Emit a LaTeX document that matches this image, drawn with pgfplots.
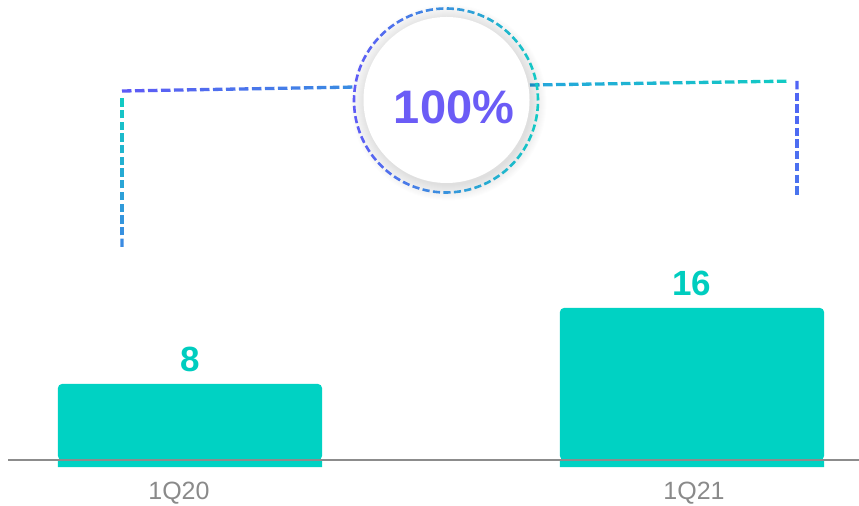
\documentclass[border=0pt]{standalone}
\usepackage{fontspec}
\setmainfont{Liberation Sans}
\usepackage{pgfplots}
\pgfplotsset{compat=1.18}
\usetikzlibrary{calc}
\definecolor{barteal}{HTML}{00D2C3}
\definecolor{valteal}{HTML}{00CDBF}
\definecolor{axgray}{HTML}{8C8C8C}
\definecolor{lblgray}{HTML}{8A8A8A}
\definecolor{pctpurple}{HTML}{6B5CF6}
\definecolor{gpurple}{HTML}{5E5BF6}
\definecolor{gteal}{HTML}{12CAC4}
\definecolor{gblue}{HTML}{3A8BE2}
\definecolor{gcyan}{HTML}{26A6DC}
\definecolor{gviolet}{HTML}{5064F5}
\definecolor{gviolettwo}{HTML}{4A74EE}
% dashed line with a colour gradient: x1 y1 x2 y2 colA colB dash gap
\newcommand{\gradline}[8]{%
  \pgfmathsetmacro{\glL}{veclen(#3-#1,#4-#2)}%
  \pgfmathtruncatemacro{\glN}{floor((\glL+#8)/(#7+#8))-1}%
  \foreach \i in {0,...,\glN}{%
    \pgfmathsetmacro{\gls}{\i*(#7+#8)/\glL}%
    \pgfmathsetmacro{\gle}{min(\i*(#7+#8)+#7,\glL)/\glL}%
    \pgfmathtruncatemacro{\glp}{\glN==0?0:100*\i/\glN}%
    \draw[line width=3.3bp, color=#6!\glp!#5] ($(#1,#2)!\gls!(#3,#4)$) -- ($(#1,#2)!\gle!(#3,#4)$);
  }%
}
\begin{document}
\begin{tikzpicture}[x=1bp,y=1bp]
\useasboundingbox (0,0) rectangle (859,506);
\begin{axis}[
  at={(8bp,39bp)}, anchor=south west, scale only axis,
  width=851bp, height=467bp,
  xmin=-0.3625, xmax=1.3327, ymin=-0.7368, ymax=48.42,
  axis line style={draw=none},
  ytick=\empty,
  xtick={-0.022,1.004}, xticklabels={1Q20,1Q21},
  major tick length=0pt,
  xticklabel style={font=\fontsize{25bp}{30bp}\selectfont, text=lblgray, inner sep=0pt, anchor=north, yshift=-15bp},
  extra y ticks={0}, extra y tick labels={},
  extra y tick style={ymajorgrids=true},
  major grid style={draw=axgray, line width=1.4bp},
  axis on top, clip=false,
  ybar, bar width=0.526, bar shift=0pt,
  /pgf/number format/assume math mode=true,
]
\addplot[fill=barteal, draw=none, rounded corners=4bp,
  nodes near coords,
  nodes near coords style={font=\fontsize{35bp}{40bp}\selectfont\bfseries, text=valteal, anchor=south, inner sep=0pt, yshift=12bp}]
  coordinates {(0,8) (1,16)};
\addplot[fill=barteal, draw=none, forget plot] coordinates {(0,-0.74) (1,-0.74)};
\end{axis}
% bracket
\gradline{122}{259}{122}{415}{gblue}{gteal}{8.3}{3.4}
\gradline{122}{415}{357}{419}{gpurple}{gblue}{9.5}{3.5}
\gradline{530}{421}{797}{425}{gcyan}{gteal}{9.5}{3.5}
\gradline{797}{425}{797}{309}{gviolet}{gviolettwo}{8.3}{3.4}
% shadow and white disc
\foreach \k in {1,...,16}{%
  \pgfmathsetmacro{\rr}{82+\k*1.0}%
  \fill[black, opacity=0.006] (448.5,403.5) circle[radius=\rr bp];
}
\fill[white] (446.5,406) circle[radius=83bp];
% dashed gradient circle
\foreach \i in {0,...,54}{%
  \pgfmathsetmacro{\ca}{\i*(360/55)}%
  \pgfmathsetmacro{\cb}{\ca+0.68*(360/55)}%
  \pgfmathtruncatemacro{\cp}{50*(1+cos((\ca+\cb)/2))}%
  \draw[line width=2.6bp, color=gteal!\cp!gpurple] (446,405.5) ++(\ca:92bp) arc[start angle=\ca, end angle=\cb, radius=92bp];
}
\node[text=pctpurple, font=\fontsize{47bp}{52bp}\selectfont\bfseries, inner sep=0pt] at (454,399) {100\%};
\end{tikzpicture}
\end{document}
